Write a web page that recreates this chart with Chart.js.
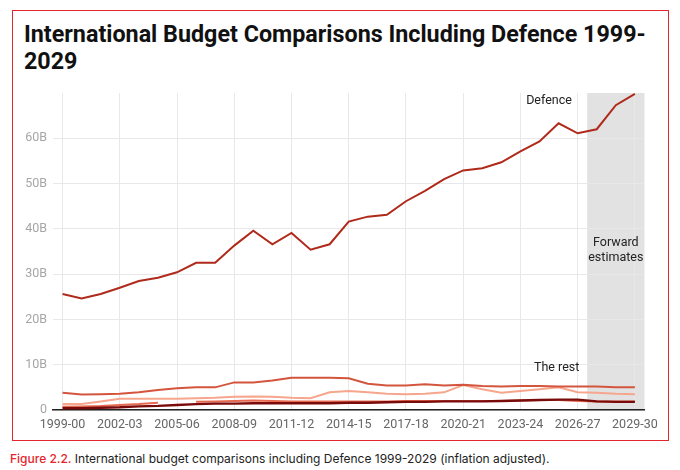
<!DOCTYPE html>
<html>
<head>
<meta charset="utf-8">
<script src="https://cdn.jsdelivr.net/npm/chart.js@4.4.1/dist/chart.umd.min.js"></script>
<style>
  body { margin: 0; background: #fff; width: 680px; height: 470px; position: relative; overflow: hidden; }
  #frame { position: absolute; left: 12px; top: 10px; width: 655px; height: 429px; border: 1.5px solid #e3262d; }
  #title { position: absolute; left: 11px; top: 10px; margin: 0; font: 700 23.3px Roboto, sans-serif; line-height: 27px; color: #111; }
  #chartWrap { position: absolute; left: 2px; top: 68px; }
  #caption { position: absolute; left: 10px; top: 451px; font: 12px Inter, sans-serif; color: #222; }
  #caption b { color: #e3262d; font-weight: 500; }
</style>
</head>
<body>
<div id="frame">
  <h1 id="title">International Budget Comparisons Including Defence 1999-<br>2029</h1>
  <div id="chartWrap"><canvas id="budget-chart" width="650" height="360"></canvas></div>
</div>
<div id="caption"><b>Figure 2.2.</b> International budget comparisons including Defence 1999-2029 (inflation adjusted).</div>

<script>
// financial years shown on the x axis
const years = ['1999-00', '2000-01', '2001-02', '2002-03', '2003-04', '2004-05', '2005-06', '2006-07',
    '2007-08', '2008-09', '2009-10', '2010-11', '2011-12', '2012-13', '2013-14', '2014-15', '2015-16',
    '2016-17', '2017-18', '2018-19', '2019-20', '2020-21', '2021-22', '2022-23', '2023-24', '2024-25',
    '2025-26', '2026-27', '2027-28', '2028-29', '2029-30'];

// billions, inflation adjusted
const defence = [25.6, 24.6, 25.6, 27.0, 28.5, 29.2, 30.4, 32.5, 32.5, 36.3, 39.6, 36.6, 39.1, 35.4, 36.6,
    41.6, 42.7, 43.1, 46.1, 48.4, 51.0, 52.9, 53.4, 54.7, 57.1, 59.3, 63.3, 61.1, 62.0, 67.3, 69.8];
const restA = [3.8, 3.4, 3.5, 3.6, 3.9, 4.4, 4.8, 5.0, 5.0, 6.1, 6.1, 6.5, 7.1, 7.1, 7.1, 7.0, 5.8, 5.4,
    5.4, 5.7, 5.4, 5.6, 5.3, 5.2, 5.3, 5.3, 5.2, 5.2, 5.2, 5.0, 5.0];
const restB = [1.3, 1.3, 1.9, 2.5, 2.5, 2.5, 2.5, 2.6, 2.7, 2.9, 3.0, 2.9, 2.7, 2.6, 3.9, 4.2, 3.9, 3.6,
    3.5, 3.6, 3.9, 5.5, 4.6, 3.8, 4.2, 4.6, 5.0, 3.9, 3.8, 3.6, 3.5];
const restC = [0.7, 0.8, 0.9, 1.1, 1.3, 1.6, null, 1.8, 1.9, 2.0, 2.1, 2.0, 1.9, 1.9, 1.9, 1.9, 1.9, 1.9,
    2.0, 2.0, 2.0, 2.0, 2.0, 2.0, 2.1, 2.2, 2.2, 2.0, 1.9, 1.9, 1.9];
const restD = [0.4, 0.4, 0.5, 0.6, 0.8, 0.9, 1.1, 1.3, 1.4, 1.4, 1.5, 1.5, 1.5, 1.5, 1.5, 1.6, 1.6, 1.7,
    1.8, 1.8, 1.9, 1.9, 1.9, 2.0, 2.1, 2.2, 2.3, 2.3, 1.9, 1.8, 1.8];

const yTicks = [0, 10, 20, 30, 40, 50, 60];
const forwardFrom = '2027-28';

// shaded forward estimates band + the text labels
const annotations = {
    id: 'annotations',
    beforeDraw(chart) {
        const { ctx, chartArea, scales: { x } } = chart;
        const left = x.getPixelForValue(years.indexOf(forwardFrom) - 0.5);
        ctx.save();
        ctx.fillStyle = '#e2e2e2';
        ctx.fillRect(left, chartArea.top, chartArea.right - left, chartArea.bottom - chartArea.top);
        ctx.restore();
    },
    afterDatasetsDraw(chart) {
        const { ctx, scales: { x, y } } = chart;
        ctx.save();
        ctx.fillStyle = '#222';
        ctx.font = '12.5px Roboto, sans-serif';
        ctx.textAlign = 'center';
        ctx.textBaseline = 'middle';
        ctx.fillText('Defence', x.getPixelForValue(25.5), y.getPixelForValue(68.2));
        ctx.fillText('The rest', x.getPixelForValue(25.9), y.getPixelForValue(9.2));
        ctx.fillText('Forward', x.getPixelForValue(29), y.getPixelForValue(36.9));
        ctx.fillText('estimates', x.getPixelForValue(29), y.getPixelForValue(33.5));
        ctx.restore();
    }
};

function line(label, data, color, width) {
    return { label, data, borderColor: color, borderWidth: width, pointRadius: 0, tension: 0, spanGaps: false, clip: false };
}

const ctx = document.getElementById('budget-chart').getContext('2d');
const budgetChart = new Chart(ctx, {
    type: 'line',
    data: {
        labels: years,
        datasets: [
            line('Defence', defence, '#b02a1c', 2),
            line('Rest D', restD, '#7a0b0b', 2.4),
            line('Rest A', restA, '#d4553d', 2),
            line('Rest C', restC, '#e66a50', 2),
            line('Rest B', restB, '#f6a68c', 2)
        ]
    },
    options: {
        responsive: false,
        animation: false,
        layout: { padding: { top: 14, right: 19, bottom: 0, left: 0 } },
        plugins: { legend: { display: false }, tooltip: { enabled: false } },
        scales: {
            x: {
                offset: true,
                grid: {
                    offset: false,
                    drawTicks: false,
                    tickLength: 0,
                    color: (c) => (c.index % 3 === 0 ? '#e8e8e8' : 'transparent')
                },
                border: { color: '#222', width: 1.5 },
                ticks: {
                    autoSkip: false,
                    maxRotation: 0,
                    padding: 7,
                    color: '#666',
                    font: { family: 'Roboto', size: 12.5 },
                    callback: (v, i) => (i % 3 === 0 ? years[i] : '')
                },
                afterFit: (s) => { s.height = 29; }
            },
            y: {
                min: 0,
                max: 70,
                grid: { color: '#e8e8e8', drawTicks: false, tickLength: 0 },
                border: { display: false },
                afterBuildTicks: (s) => { s.ticks = yTicks.map(v => ({ value: v })); },
                ticks: {
                    padding: 6,
                    color: '#a6a6a6',
                    font: { family: 'Roboto', size: 12.5 },
                    callback: (v) => (v === 0 ? '0' : v + 'B')
                },
                afterFit: (s) => { s.width = 38; }
            }
        }
    },
    plugins: [annotations]
});
</script>
</body>
</html>
